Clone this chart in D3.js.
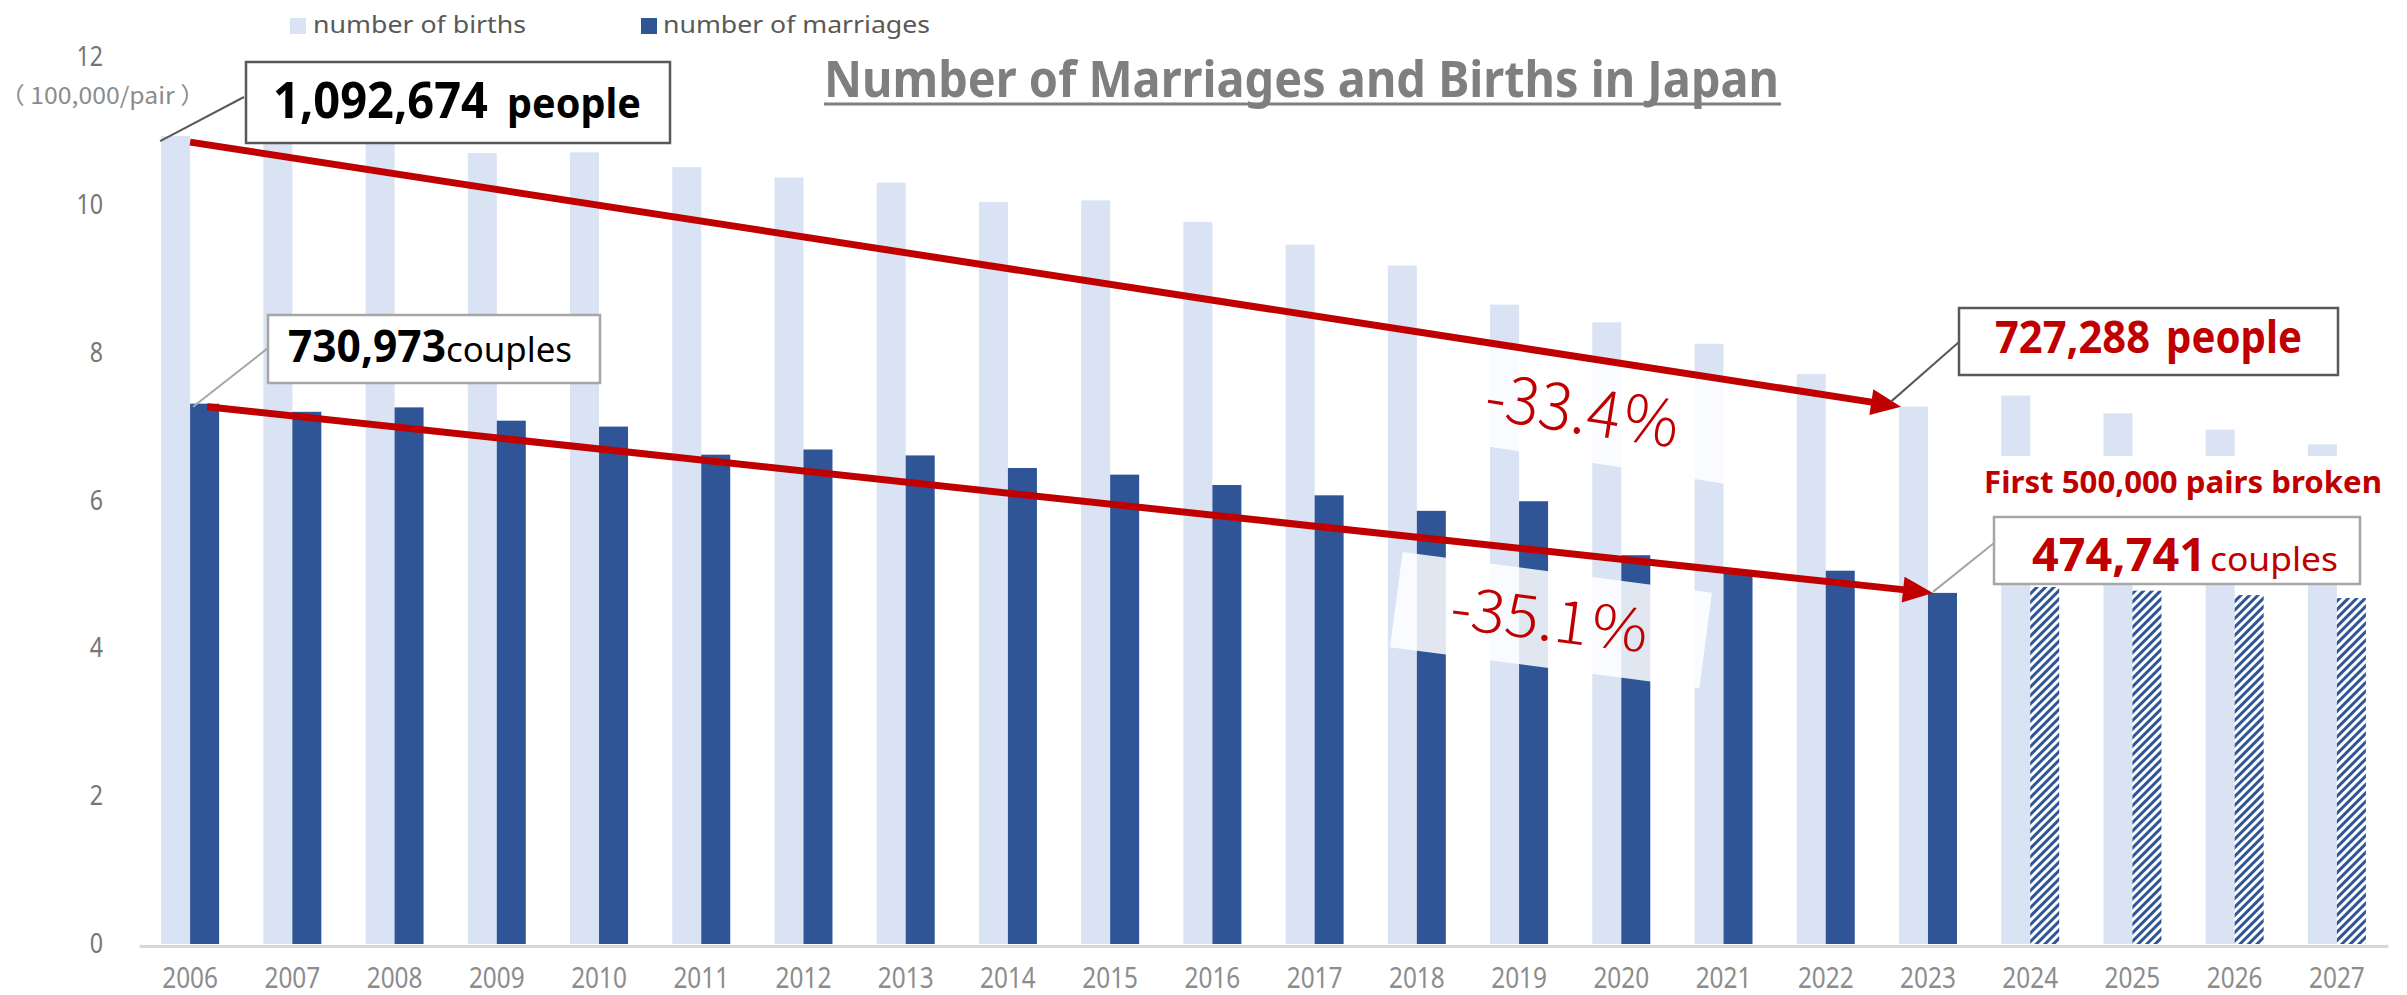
<!DOCTYPE html>
<html>
<head>
<meta charset="utf-8">
<script src="https://cdn.jsdelivr.net/npm/d3@7"></script>
<style>
  body { margin: 0; background: #fff; }
  svg { display: block; }
  text { font-family: "Noto Sans", "Noto Sans CJK JP", sans-serif; }
</style>
</head>
<body>
<svg id="chart"></svg>
<script>
// data (units: 100,000 people / pairs)
var years = ["2006","2007","2008","2009","2010","2011","2012","2013","2014","2015","2016",
             "2017","2018","2019","2020","2021","2022","2023","2024","2025","2026","2027"]
var births = [10.93,10.90,10.91,10.70,10.71,10.51,10.37,10.30,10.04,10.06,9.77,
              9.46,9.18,8.65,8.41,8.12,7.71,7.27,7.42,7.18,6.96,6.76]
var marriages = [7.31,7.20,7.26,7.08,7.00,6.62,6.69,6.61,6.44,6.35,6.21,
                 6.07,5.86,5.99,5.26,5.01,5.05,4.75,4.83,4.78,4.72,4.68]
var forecastYears = ["2024","2025","2026","2027"]
var yTicks = [0,2,4,6,8,10,12]
var legendLabels = ["number of births","number of marriages"]
var titleText = "Number of Marriages and Births in Japan"
var unitText = "（ 100,000/pair ）"
var calloutNumbers = ["1,092,674","730,973","727,288","474,741"]
var changeLabels = ["-33.4％","-35.1％"]
var milestoneText = "First 500,000 pairs broken"

var W = 2407, H = 995
var lightBlue = "#dae3f3", darkBlue = "#2f5597", red = "#c00000"

var svg = d3.select("#chart").attr("width", W).attr("height", H)

var x = d3.scaleBand().domain(years).range([139, 2388]).padding(0)
var y = d3.scaleLinear().domain([0, 12]).range([944, 57])
var barW = 29
var cx = function(d){ return x(d) + x.bandwidth() / 2 }

// squeeze text horizontally, the original uses a narrow font
var squeeze = function(sel, k){
  sel.each(function(){
    var l = this.getComputedTextLength()
    d3.select(this).attr("textLength", l * k).attr("lengthAdjust", "spacingAndGlyphs")
  })
}

var defs = svg.append("defs")
var pat = defs.append("pattern").attr("id", "hatch")
  .attr("patternUnits", "userSpaceOnUse").attr("width", 6).attr("height", 6)
  .attr("patternTransform", "rotate(45)")
pat.append("rect").attr("width", 6).attr("height", 6).attr("fill", "#fff")
pat.append("rect").attr("width", 3).attr("height", 6).attr("fill", darkBlue)

// bars
svg.append("g").selectAll("rect").data(years).enter().append("rect")
  .attr("x", function(d){ return cx(d) - barW })
  .attr("y", function(d, i){ return y(births[i]) })
  .attr("width", barW)
  .attr("height", function(d, i){ return y(0) - y(births[i]) })
  .attr("fill", lightBlue)

svg.append("g").selectAll("rect").data(years).enter().append("rect")
  .attr("x", function(d){ return cx(d) })
  .attr("y", function(d, i){ return y(marriages[i]) })
  .attr("width", barW)
  .attr("height", function(d, i){ return y(0) - y(marriages[i]) })
  .attr("fill", function(d){ return forecastYears.indexOf(d) >= 0 ? "url(#hatch)" : darkBlue })

// axes
var xAxis = svg.append("g").attr("transform", "translate(0," + (y(0) + 2) + ")")
  .call(d3.axisBottom(x).tickSize(0).tickSizeOuter(0).tickPadding(21))
xAxis.select(".domain").attr("stroke", "#d9d9d9").attr("stroke-width", 3)
xAxis.selectAll("text").attr("font-size", 29).attr("fill", "#8c8c8c")
  .style("font-family", "'Noto Sans', sans-serif").call(squeeze, 0.84)

var yAxis = svg.append("g").attr("transform", "translate(139,0)")
  .call(d3.axisLeft(y).tickValues(yTicks).tickSize(0).tickPadding(36))
yAxis.select(".domain").remove()
yAxis.selectAll("text").attr("font-size", 27).attr("fill", "#767676")
  .style("font-family", "'Noto Sans', sans-serif").call(squeeze, 0.86)

svg.append("text").attr("x", 0).attr("y", 104).attr("font-size", 23).attr("fill", "#8c8c8c")
  .style("font-family", "'Noto Sans CJK JP', sans-serif")
  .attr("textLength", 205).attr("lengthAdjust", "spacingAndGlyphs").text(unitText)

// legend
var legendX = [[290, 313, 213], [641, 663, 267]]
legendLabels.forEach(function(l, i){
  svg.append("rect").attr("x", legendX[i][0]).attr("y", 18).attr("width", 16).attr("height", 16)
    .attr("fill", i == 0 ? lightBlue : darkBlue)
  svg.append("text").attr("x", legendX[i][1]).attr("y", 33).attr("font-size", 24)
    .attr("fill", "#595959").attr("textLength", legendX[i][2]).attr("lengthAdjust", "spacingAndGlyphs")
    .text(l)
})

// title
svg.append("text").attr("x", 824).attr("y", 97).attr("font-size", 50).attr("font-weight", "bold")
  .attr("fill", "#7f7f7f").attr("textLength", 955).attr("lengthAdjust", "spacingAndGlyphs")
  .text(titleText)
svg.append("line").attr("x1", 824).attr("x2", 1781).attr("y1", 104).attr("y2", 104)
  .attr("stroke", "#7f7f7f").attr("stroke-width", 3)

// change labels with faded backgrounds
var changes = [
  {cx: 1584, cy: 411, w: 300, h: 100, rot: 9, size: 64, len: 198, label: changeLabels[0]},
  {cx: 1551, cy: 620, w: 312, h: 96, rot: 7.5, size: 58, len: 202, label: changeLabels[1]}
]
changes.forEach(function(c){
  var g = svg.append("g").attr("transform", "translate(" + c.cx + "," + c.cy + ") rotate(" + c.rot + ")")
  g.append("rect").attr("x", -c.w / 2).attr("y", -c.h / 2).attr("width", c.w).attr("height", c.h)
    .attr("fill", "#fff").attr("opacity", 0.86)
  g.append("text").attr("text-anchor", "middle").attr("dy", "0.36em")
    .attr("font-size", c.size).attr("font-weight", 300).attr("fill", red)
    .style("font-family", "'Noto Sans CJK JP', 'Noto Sans', sans-serif")
    .attr("textLength", c.len).attr("lengthAdjust", "spacingAndGlyphs")
    .text(c.label)
})

// red trend arrows
var arrow = function(x1, y1, x2, y2){
  var a = Math.atan2(y2 - y1, x2 - x1), len = 30, half = 13
  var bx = x2 - len * Math.cos(a), by = y2 - len * Math.sin(a)
  svg.append("line").attr("x1", x1).attr("y1", y1).attr("x2", bx + 2 * Math.cos(a)).attr("y2", by + 2 * Math.sin(a))
    .attr("stroke", red).attr("stroke-width", 7)
  var pts = [[x2, y2],
             [bx + half * Math.sin(a), by - half * Math.cos(a)],
             [bx - half * Math.sin(a), by + half * Math.cos(a)]]
  svg.append("polygon").attr("points", pts.map(function(p){ return p.join(",") }).join(" ")).attr("fill", red)
}
var i23 = years.indexOf("2023")
arrow(cx("2006"), y(births[0]) + 6, cx("2023") - 27, y(births[i23]))
arrow(cx("2006") + 17, y(marriages[0]) + 3, cx("2023") + 5, y(marriages[i23]))

// callouts
var leader = function(x1, y1, x2, y2, col){
  svg.append("line").attr("x1", x1).attr("y1", y1).attr("x2", x2).attr("y2", y2)
    .attr("stroke", col).attr("stroke-width", 2)
}
var box = function(bx, by, bw, bh, col){
  svg.append("rect").attr("x", bx).attr("y", by).attr("width", bw).attr("height", bh)
    .attr("fill", "#fff").attr("stroke", col).attr("stroke-width", 2.5)
}
var label = function(tx, ty, size, weight, col, len, t){
  svg.append("text").attr("x", tx).attr("y", ty).attr("font-size", size).attr("font-weight", weight)
    .attr("fill", col).attr("textLength", len).attr("lengthAdjust", "spacingAndGlyphs").text(t)
}

leader(244, 97, cx("2006") - 30, y(births[0]) + 5, "#595959")
box(246, 62, 424, 81, "#595959")
label(273, 118, 50, "bold", "#000", 215, calloutNumbers[0])
label(507, 118, 42, "bold", "#000", 134, "people")

leader(268, 348, cx("2006") + 3, y(marriages[0]) + 3, "#a6a6a6")
box(268, 315, 332, 68, "#a6a6a6")
label(288, 362, 44, "bold", "#000", 158, calloutNumbers[1])
label(446, 362, 34, "normal", "#000", 126, "couples")

leader(1959, 342, cx("2023") - 37, y(births[i23]) - 5, "#595959")
box(1959, 308, 379, 67, "#595959")
label(1995, 353, 44, "bold", red, 155, calloutNumbers[2])
label(2166, 353, 44, "bold", red, 136, "people")

svg.append("rect").attr("x", 1975).attr("y", 456).attr("width", 420).attr("height", 61).attr("fill", "#fff")
label(1984, 493, 30, "bold", red, 398, milestoneText)

leader(1994, 543, cx("2023") + 5, y(marriages[i23]) - 1, "#a6a6a6")
box(1994, 517, 366, 67, "#a6a6a6")
label(2032, 571, 46, "bold", red, 174, calloutNumbers[3])
label(2210, 571, 33, "normal", red, 128, "couples")
</script>
</body>
</html>
